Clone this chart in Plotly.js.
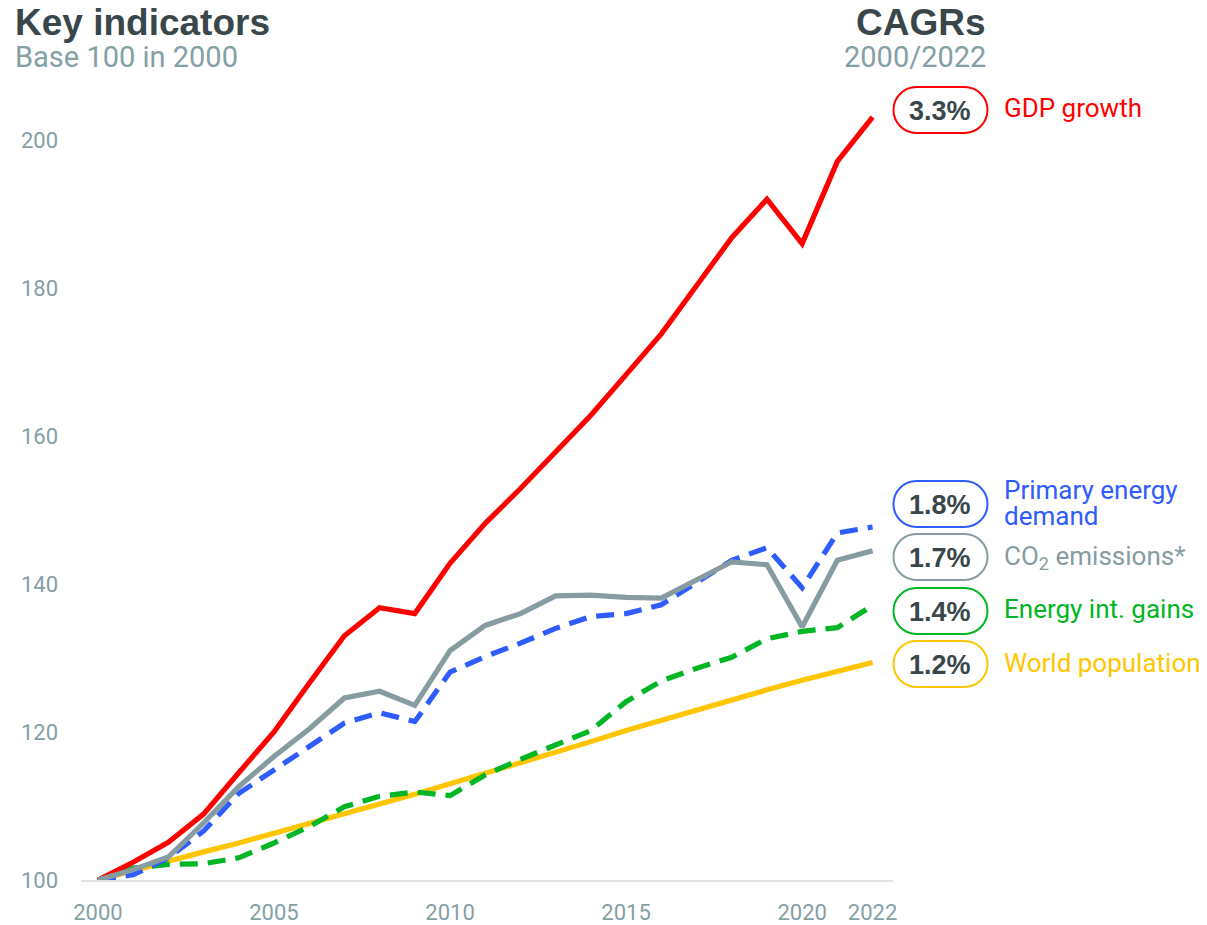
<!DOCTYPE html>
<html>
<head>
<meta charset="utf-8">
<script src="https://cdn.plot.ly/plotly-3.0.1.min.js"></script>
<style>html,body{margin:0;padding:0;background:#fff;}#chart{width:1207px;height:925px;}</style>
</head>
<body>
<div id="chart"></div>
<script>
// ---- data ----
const years = [2000,2001,2002,2003,2004,2005,2006,2007,2008,2009,2010,2011,2012,2013,2014,2015,2016,2017,2018,2019,2020,2021,2022];
const gdp        = [100,102.4,105.1,108.9,114.5,120.0,126.6,133.0,136.8,136.0,142.8,148.2,152.9,157.8,162.8,168.3,173.8,180.3,186.8,192.0,186.0,197.1,203.1];
const energy     = [100,100.7,103.0,106.6,111.7,114.9,118.2,121.2,122.6,121.4,128.1,130.2,132.0,134.0,135.6,136.0,137.2,140.1,143.2,144.9,139.5,146.9,147.7];
const co2        = [100,101.4,103.1,107.7,112.6,116.7,120.4,124.6,125.5,123.6,131.0,134.4,136.0,138.4,138.5,138.2,138.1,140.5,143.0,142.6,134.2,143.2,144.5];
const intensity  = [100,101.6,102.1,102.2,103.0,105.0,107.2,109.9,111.3,111.9,111.4,114.2,116.3,118.2,120.2,124.1,126.9,128.6,130.1,132.6,133.6,134.1,137.1];
const population = [100,101.3,102.5,103.8,105.0,106.3,107.6,108.9,110.2,111.6,113.0,114.4,115.8,117.2,118.7,120.2,121.6,123.0,124.3,125.7,127.0,128.2,129.4];
const tickYears  = [2000,2005,2010,2015,2020,2022];
const tickValsY  = [100,120,140,160,180,200];
const cagrValues = ["3.3%","1.8%","1.7%","1.4%","1.2%"];
const seriesNames = ["GDP growth","Primary energy demand","CO<sub>2</sub> emissions*","Energy int. gains","World population"];

// ---- style ----
const C = {red:"#ff0000", blue:"#2e5cff", gray:"#869ca1", green:"#00b624", yellow:"#ffc600",
           dark:"#39474b", axis:"#84a0a5"};
const W = 1207, H = 925;
const M = {l:81, r:314, t:66, b:45};
const PW = W - M.l - M.r, PH = H - M.t - M.b;
const px = x => (x - M.l) / PW;        // pixel x -> paper
const py = y => (H - M.b - y) / PH;    // pixel y -> paper

function line(y, color, dash, name){
  return {x: years, y: y, type:"scatter", mode:"lines", name:name,
          line:{color:color, width:5.2, dash: dash ? "18px,10px" : "solid"},
          hoverinfo:"skip"};
}

const traces = [
  line(population, C.yellow, false, "World population"),
  line(intensity, C.green, true, "Energy int. gains"),
  line(energy, C.blue, true, "Primary energy demand"),
  line(gdp, C.red, false, "GDP growth"),
  line(co2, C.gray, false, "CO2 emissions*")
];

// pill shapes
function pillPath(cx, cy, w, h){
  const r = h/2, k = 0.5523*r;
  const x0 = cx - w/2, x1 = cx + w/2, y0 = cy - h/2, y1 = cy + h/2;
  const P = (x,y) => px(x).toFixed(5) + "," + py(y).toFixed(5);
  return "M" + P(x0+r, y0) + " L" + P(x1-r, y0) +
    " C" + P(x1-r+k, y0) + " " + P(x1, cy-k) + " " + P(x1, cy) +
    " C" + P(x1, cy+k) + " " + P(x1-r+k, y1) + " " + P(x1-r, y1) +
    " L" + P(x0+r, y1) +
    " C" + P(x0+r-k, y1) + " " + P(x0, cy+k) + " " + P(x0, cy) +
    " C" + P(x0, cy-k) + " " + P(x0+r-k, y0) + " " + P(x0+r, y0) + " Z";
}

const pillColors = [C.red, C.blue, C.gray, C.green, C.yellow];
const pillY = [110, 504, 557, 611, 664];
const pillCx = 940.5, pillW = 94, pillH = 46;

const shapes = pillY.map((y,i) => ({
  type:"path", xref:"paper", yref:"paper", path: pillPath(pillCx, y, pillW, pillH),
  line:{color:pillColors[i], width:2}, fillcolor:"#ffffff", layer:"above"
}));

const annotations = [];
const ann = (text, x, y, size, color, xanchor, bold, family) => annotations.push({
  text: bold ? "<b>"+text+"</b>" : text, xref:"paper", yref:"paper", x:px(x), y:py(y),
  xanchor:xanchor, yanchor:"middle", showarrow:false,
  font:{size:size, color:color, family: family || "Roboto, sans-serif"}
});

ann("Key indicators", 13, 22, 37, C.dark, "left", true, "Liberation Sans, Arial, sans-serif");
ann("Base 100 in 2000", 13, 57, 29, C.axis, "left", false);
ann("CAGRs", 988, 22, 37, C.dark, "right", true, "Liberation Sans, Arial, sans-serif");
ann("2000/2022", 988, 57, 29, C.axis, "right", false);

pillY.forEach((y,i) => {
  ann(cagrValues[i], pillCx, y+1, 27, C.dark, "center", true, "Liberation Sans, Arial, sans-serif");
});
const labelX = 1002;
ann(seriesNames[0], labelX, 108, 26, C.red, "left", false);
ann("Primary energy", labelX, 490, 26, C.blue, "left", false);
ann("demand", labelX, 516, 26, C.blue, "left", false);
ann(seriesNames[2], labelX, 557, 26, C.gray, "left", false);
ann(seriesNames[3], labelX, 609, 26, C.green, "left", false);
ann(seriesNames[4], labelX, 663, 26, C.yellow, "left", false);

const layout = {
  width: W, height: H,
  margin: M,
  paper_bgcolor:"#ffffff", plot_bgcolor:"#ffffff",
  showlegend:false,
  font:{family:"Roboto, sans-serif", color:C.axis},
  xaxis:{range:[1999.52, 2022.58], tickvals:tickYears, ticktext:tickYears.map(String),
         showgrid:false, zeroline:false, showline:true, linecolor:"#dfe5e7", linewidth:2,
         ticks:"", ticklabelstandoff:12, tickfont:{size:22, color:C.axis}, fixedrange:true},
  yaxis:{range:[100, 210], tickvals:tickValsY, showgrid:false, zeroline:false, showline:false,
         ticks:"", ticklabelstandoff:22, tickfont:{size:22, color:C.axis}, fixedrange:true},
  shapes: shapes,
  annotations: annotations
};

Plotly.newPlot("chart", traces, layout, {displayModeBar:false, staticPlot:true});
</script>
</body>
</html>
